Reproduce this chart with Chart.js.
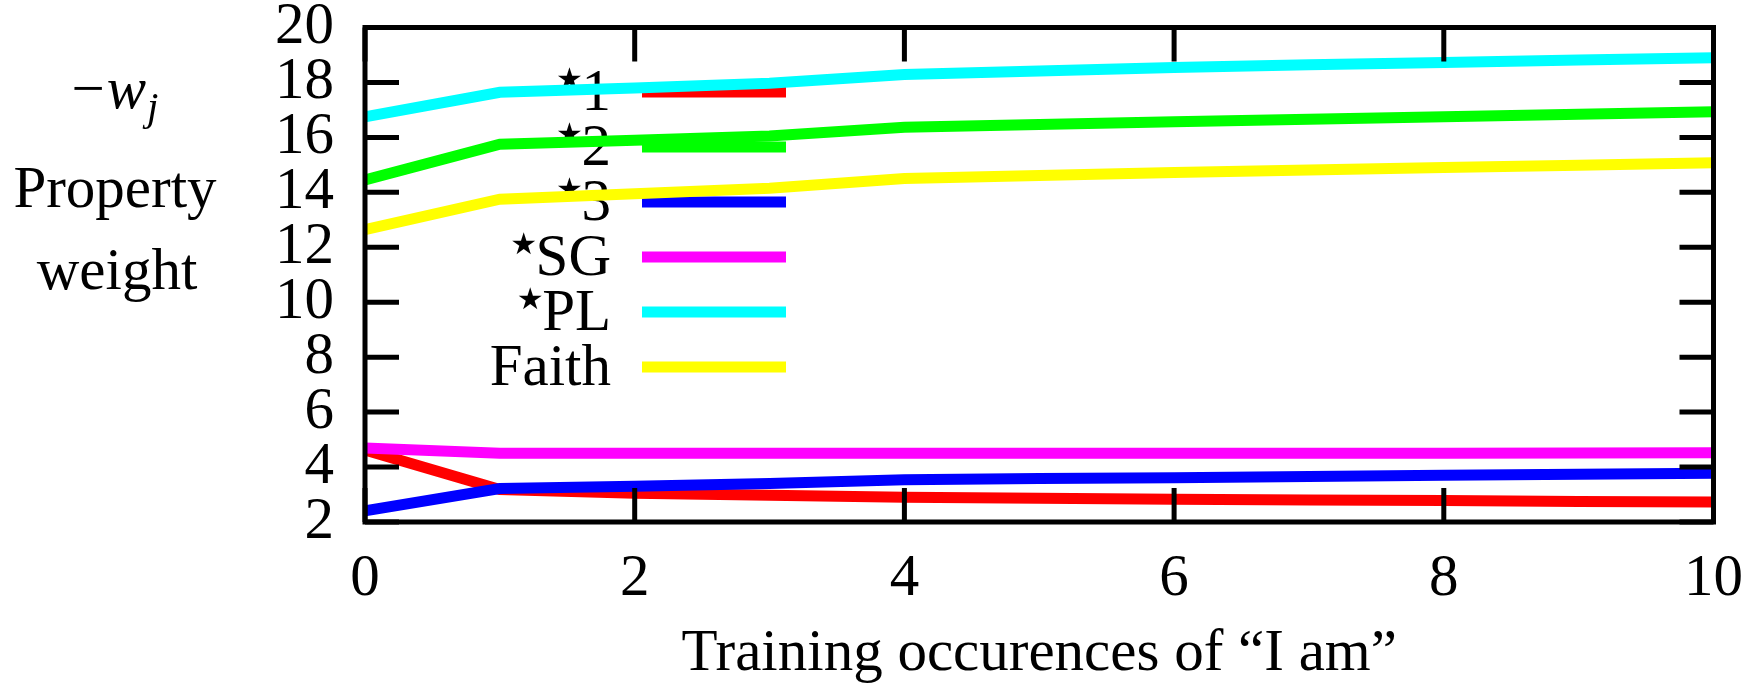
<!DOCTYPE html>
<html>
<head>
<meta charset="utf-8">
<script src="https://cdn.jsdelivr.net/npm/chart.js@4/dist/chart.umd.min.js"></script>
<style>
  html, body { margin: 0; padding: 0; background: #fff; }
  canvas { display: block; }
</style>
</head>
<body>
<canvas id="weightsChart" width="1760" height="686"></canvas>
<script>
// training occurences of "I am"
const occurences = [0, 1, 2, 3, 4, 5, 6, 7, 8, 9, 10];

// -w_j per property
const star1  = [4.62, 3.18, 3.05, 2.97, 2.90, 2.86, 2.83, 2.80, 2.78, 2.75, 2.73];
const star2  = [14.45, 15.75, 15.90, 16.05, 16.37, 16.47, 16.57, 16.66, 16.75, 16.84, 16.93];
const star3  = [2.41, 3.22, 3.30, 3.40, 3.54, 3.58, 3.61, 3.66, 3.70, 3.74, 3.77];
const starSG = [4.69, 4.50, 4.50, 4.50, 4.50, 4.50, 4.50, 4.50, 4.50, 4.51, 4.52];
const starPL = [16.75, 17.64, 17.80, 17.97, 18.29, 18.42, 18.54, 18.64, 18.73, 18.82, 18.90];
const faith  = [12.64, 13.75, 13.95, 14.15, 14.50, 14.61, 14.72, 14.81, 14.90, 14.99, 15.08];

const seriesLabels = ['⋆1', '⋆2', '⋆3', '⋆SG', '⋆PL', 'Faith'];
const seriesColors = ['#ff0000', '#00ff00', '#0000ff', '#ff00ff', '#00ffff', '#ffff00'];

const xTickValues = [0, 2, 4, 6, 8, 10];
const yTickValues = [2, 4, 6, 8, 10, 12, 14, 16, 18, 20];

const FONT = 'Liberation Serif';
const FS = 59;

const allSeries = [star1, star2, star3, starSG, starPL, faith];

// gnuplot style: box border with inward ticks on all four sides
const frameTicks = {
    id: 'frameTicks',
    afterDatasetsDraw(chart) {
        const { ctx, chartArea: a, scales: { x, y } } = chart;
        const len = 34;
        ctx.save();
        ctx.strokeStyle = '#000';
        ctx.lineWidth = 5;
        ctx.lineCap = 'butt';
        ctx.beginPath();
        y.ticks.forEach(t => {
            const py = y.getPixelForValue(t.value);
            ctx.moveTo(a.left, py); ctx.lineTo(a.left + len, py);
            ctx.moveTo(a.right, py); ctx.lineTo(a.right - len, py);
        });
        x.ticks.forEach(t => {
            const px = x.getPixelForValue(t.value);
            ctx.moveTo(px, a.bottom); ctx.lineTo(px, a.bottom - len);
            ctx.moveTo(px, a.top); ctx.lineTo(px, a.top + len);
        });
        ctx.stroke();
        ctx.lineJoin = 'miter';
        ctx.strokeRect(a.left, a.top, a.right - a.left, a.bottom - a.top);
        ctx.restore();
    }
};

// key inside the plot, drawn under the curves
const insideKey = {
    id: 'insideKey',
    beforeDatasetsDraw(chart) {
        const { ctx } = chart;
        const textRight = 611, sampleL = 642, sampleR = 786;
        const rowTop = 92, rowStep = 55;
        ctx.save();
        chart.data.datasets.forEach((ds, i) => {
            const yRow = rowTop + i * rowStep;
            ctx.strokeStyle = ds.borderColor;
            ctx.lineWidth = 11;
            ctx.beginPath();
            ctx.moveTo(sampleL, yRow); ctx.lineTo(sampleR, yRow);
            ctx.stroke();

            let label = ds.label;
            const hasStar = label.startsWith('⋆');
            if (hasStar) label = label.slice(1);
            ctx.fillStyle = '#000';
            ctx.font = FS + 'px "' + FONT + '"';
            ctx.textAlign = 'right';
            ctx.textBaseline = 'alphabetic';
            ctx.fillText(label, textRight, yRow + 18);
            if (hasStar) {
                const start = textRight - ctx.measureText(label).width;
                ctx.font = '30px "DejaVu Sans"';
                ctx.textAlign = 'center';
                ctx.textBaseline = 'middle';
                ctx.fillText('★', start - 12, yRow - 11);
            }
        });
        ctx.restore();
    }
};

// y title: "−w_j / Property / weight"
const yTitle = {
    id: 'yTitle',
    afterDraw(chart) {
        const { ctx } = chart;
        const cx = 115;
        ctx.save();
        ctx.fillStyle = '#000';
        ctx.textBaseline = 'alphabetic';
        ctx.textAlign = 'left';
        const fMinus = FS + 'px "' + FONT + '"';
        const fW = 'italic ' + FS + 'px "' + FONT + '"';
        const fJ = 'italic 41px "' + FONT + '"';
        ctx.font = fMinus; const wMinus = ctx.measureText('−').width;
        ctx.font = fW; const wW = ctx.measureText('w').width;
        ctx.font = fJ; const wJ = ctx.measureText('j').width;
        let x0 = cx - (wMinus + wW + wJ + 3) / 2;
        const base = 108;
        ctx.font = fMinus; ctx.fillText('−', x0, base); x0 += wMinus + 2;
        ctx.font = fW; ctx.fillText('w', x0, base); x0 += wW + 1;
        ctx.font = fJ; ctx.fillText('j', x0, base + 12);

        ctx.font = FS + 'px "' + FONT + '"';
        ctx.textAlign = 'center';
        ctx.fillText('Property', cx, 207);
        ctx.fillText('weight', cx + 2, 289);
        ctx.restore();
    }
};

new Chart(document.getElementById('weightsChart'), {
    type: 'line',
    data: {
        datasets: allSeries.map((vals, i) => ({
            label: seriesLabels[i],
            data: occurences.map((o, k) => ({ x: o, y: vals[k] })),
            borderColor: seriesColors[i],
            backgroundColor: seriesColors[i],
            borderWidth: 11,
            borderCapStyle: 'butt',
            borderJoinStyle: 'miter',
            pointRadius: 0,
            tension: 0,
            fill: false,
            order: allSeries.length - 1 - i
        }))
    },
    options: {
        responsive: false,
        animation: false,
        devicePixelRatio: 1,
        layout: { padding: { left: 0, top: 27.5, right: 46.5, bottom: 0 } },
        plugins: { legend: { display: false }, tooltip: { enabled: false } },
        scales: {
            x: {
                type: 'linear',
                min: 0, max: 10,
                afterBuildTicks: s => { s.ticks = xTickValues.map(v => ({ value: v })); },
                afterFit: s => { s.height = 164; s.paddingLeft = 0; s.paddingRight = 0; },
                grid: { display: false, drawTicks: false },
                border: { display: false },
                ticks: { color: '#000', padding: 27.5, maxRotation: 0, autoSkip: false,
                         font: { family: FONT, size: FS, lineHeight: 1 } },
                title: { display: true, text: 'Training occurences of “I am”', color: '#000',
                         padding: { top: 0, bottom: 2.5 },
                         font: { family: FONT, size: FS, lineHeight: 1 } }
            },
            y: {
                type: 'linear',
                min: 2, max: 20,
                afterBuildTicks: s => { s.ticks = yTickValues.map(v => ({ value: v })); },
                afterFit: s => { s.width = 365; s.paddingTop = 0; s.paddingBottom = 0; },
                grid: { display: false, drawTicks: false },
                border: { display: false },
                ticks: { color: '#000', padding: 31, autoSkip: false,
                         font: { family: FONT, size: FS, lineHeight: 1 } }
            }
        }
    },
    plugins: [insideKey, frameTicks, yTitle]
});
</script>
</body>
</html>
